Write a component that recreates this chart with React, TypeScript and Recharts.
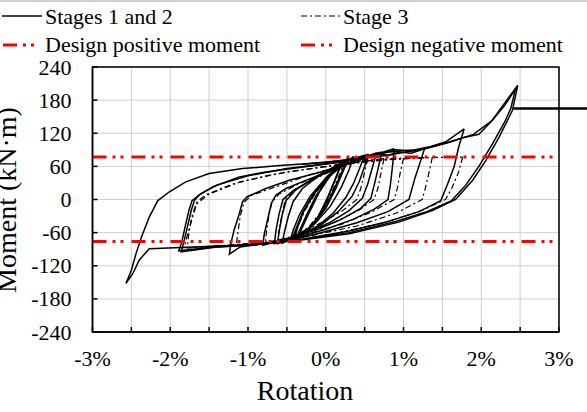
import React from "react";
import { LineChart, Line, XAxis, YAxis, CartesianGrid, ReferenceLine, ReferenceArea } from "recharts";

if (typeof document !== "undefined") document.body.style.margin = "0";

const FONT = "'Liberation Serif', 'Times New Roman', serif";

// rotation (%) , moment (kN·m)
const xTicks = [-3, -2.5, -2, -1.5, -1, -0.5, 0, 0.5, 1, 1.5, 2, 2.5, 3];
const yTicks = [-240, -180, -120, -60, 0, 60, 120, 180, 240];

const designPositive = 77;
const designNegative = -76;

// Stages 1 and 2 (solid)
const loopA = [[0.22,70],[0.14,42],[0.04,8],[-0.08,-28],[-0.2,-52],[-0.36,-68],[-0.3,-50],[-0.2,-20],[-0.08,14],[0.06,44],[0.22,70]];
const loopA2 = [[0.2,66],[0.12,36],[0.02,2],[-0.1,-32],[-0.24,-56],[-0.38,-70],[-0.33,-54],[-0.24,-26],[-0.12,8],[0.04,40],[0.2,66]];
const loopB = [[0.28,74],[0.2,48],[0.1,16],[-0.04,-22],[-0.2,-50],[-0.44,-73],[-0.38,-52],[-0.3,-24],[-0.16,10],[0.04,44],[0.28,74]];
const loopB2 = [[0.3,76],[0.22,50],[0.13,20],[0,-16],[-0.18,-48],[-0.46,-74],[-0.42,-56],[-0.34,-28],[-0.2,6],[0.02,42],[0.3,76]];
const loopB3 = [[0.36,78],[0.3,54],[0.2,22],[0.06,-12],[-0.14,-44],[-0.4,-70],[-0.36,-50],[-0.28,-20],[-0.14,12],[0.08,46],[0.36,78]];
const loopC = [[0.5,80],[0.44,58],[0.36,30],[0.26,4],[0.1,-24],[-0.1,-48],[-0.35,-66],[-0.56,-79],[-0.53,-58],[-0.48,-30],[-0.42,-4],[-0.3,20],[-0.08,44],[0.2,66],[0.5,80]];
const loopC2 = [[0.55,82],[0.5,60],[0.43,32],[0.34,6],[0.16,-22],[-0.06,-46],[-0.33,-66],[-0.62,-80],[-0.6,-58],[-0.56,-28],[-0.51,-2],[-0.38,18],[-0.12,42],[0.2,66],[0.55,82]];
const loopC3 = [[0.65,84],[0.6,58],[0.54,28],[0.47,2],[0.3,-20],[0.05,-42],[-0.3,-63],[-0.66,-80],[-0.64,-56],[-0.6,-26],[-0.55,0],[-0.42,16],[-0.15,38],[0.2,62],[0.65,84]];
const loopD = [[0.72,86],[0.68,60],[0.63,30],[0.58,2],[0.45,-16],[0.2,-36],[-0.1,-54],[-0.45,-70],[-0.81,-83],[-0.79,-62],[-0.75,-38],[-0.7,-7],[-0.64,8],[-0.51,20],[-0.25,35],[0.1,54],[0.4,72],[0.72,86]];
const loopE = [[0.88,92],[0.86,62],[0.83,25],[0.8,0],[0.62,-18],[0.35,-36],[0,-54],[-0.4,-70],[-0.8,-80],[-1.1,-86],[-1.24,-99],[-1.22,-80],[-1.18,-56],[-1.11,-25],[-1.07,-4],[-1.01,5],[-0.77,20],[-0.47,35],[0,52],[0.4,70],[0.69,84],[0.88,92]];
const loopF = [[1.27,92],[1.22,70],[1.15,40],[1.07,0],[0.8,-22],[0.4,-42],[0,-58],[-0.4,-72],[-0.9,-82],[-1.4,-86],[-1.86,-95],[-1.82,-74],[-1.78,-50],[-1.73,-20],[-1.69,-2],[-1.63,8],[-1.45,23],[-1.11,41],[-0.77,50],[-0.34,58],[0.2,68],[0.69,82],[0.9,90],[1.11,88],[1.27,92]];
const loopG = [[1.78,128],[1.71,95],[1.65,59],[1.57,29],[1.48,-2],[1.2,-22],[0.8,-40],[0.3,-57],[-0.3,-72],[-0.9,-82],[-1.5,-87],[-1.89,-93],[-1.85,-76],[-1.81,-50],[-1.76,-20],[-1.72,-2],[-1.6,11],[-1.4,26],[-1,43],[-0.5,56],[0.2,68],[0.7,84],[0.95,88],[1.15,90],[1.35,96],[1.54,104],[1.78,128]];
const loopH = [[2.47,207],[2.4,161],[2.23,113],[2.06,71],[1.89,35],[1.67,0],[1.37,-20],[0.94,-41],[0.3,-62],[-0.34,-74],[-1,-82],[-1.7,-86],[-2.27,-89],[-2.4,-110],[-2.48,-134],[-2.57,-152],[-2.5,-128],[-2.44,-98],[-2.37,-68],[-2.27,-32],[-2.16,-2],[-2.01,14],[-1.8,32],[-1.5,47],[-1.07,56],[-0.55,62],[0,67],[0.5,76],[0.65,84],[0.8,80],[0.95,86],[1.1,84],[1.27,92],[1.54,102],[1.76,112],[1.97,118],[2.14,143],[2.34,182],[2.47,207]];
const loopH2 = [[-0.3,64],[0.3,72],[0.8,80],[1.3,93],[1.6,104],[1.9,118],[2.14,143],[2.3,170],[2.44,200],[2.38,165],[2.3,140],[2.14,100],[1.97,60],[1.8,26],[1.62,-2],[1.3,-22],[0.9,-40],[0.3,-60],[-0.3,-72]];

// Stage 3 (dash-dot)
const stage3A = [[0.25,72],[0.18,46],[0.08,14],[-0.06,-22],[-0.22,-50],[-0.42,-70],[-0.36,-48],[-0.26,-18],[-0.12,14],[0.06,46],[0.25,72]];
const stage3B = [[0.54,74],[0.5,50],[0.45,20],[0.4,0],[0.2,-22],[-0.1,-45],[-0.4,-65],[-0.62,-78],[-0.6,-55],[-0.56,-25],[-0.52,0],[-0.4,18],[-0.1,40],[0.2,60],[0.54,74]];
const stage3C = [[0.75,74],[0.71,48],[0.67,20],[0.62,0],[0.42,-20],[0.1,-42],[-0.3,-62],[-0.78,-80],[-0.76,-56],[-0.73,-28],[-0.69,-4],[-0.6,10],[-0.35,28],[0,48],[0.35,66],[0.75,74]];
const stage3D = [[1,75],[0.96,50],[0.92,20],[0.88,0],[0.6,-22],[0.2,-45],[-0.3,-65],[-0.7,-76],[-1.15,-82],[-1.13,-60],[-1.1,-30],[-1.05,-5],[-0.95,8],[-0.6,25],[-0.2,45],[0.3,65],[0.6,72],[1,75]];
const stage3E = [[1.37,76],[1.33,50],[1.28,20],[1.24,0],[0.9,-25],[0.4,-48],[-0.2,-66],[-0.8,-78],[-1.4,-84],[-1.78,-88],[-1.76,-60],[-1.72,-30],[-1.66,-5],[-1.55,8],[-1.2,28],[-0.7,45],[-0.1,58],[0.5,70],[1,74],[1.37,76]];
const stage3F = [[1.76,77],[1.71,50],[1.62,20],[1.54,0],[1.2,-22],[0.7,-44],[0.1,-62],[-0.5,-76],[-1.2,-83],[-1.82,-87],[-1.78,-65],[-1.72,-35],[-1.66,-8],[-1.5,10],[-1.1,32],[-0.5,50],[0.2,63],[0.8,72],[1.3,76],[1.76,77]];

const solidLoops = [loopA, loopA2, loopB, loopB2, loopB3, loopC, loopC2, loopC3, loopD, loopE, loopF, loopG, loopH, loopH2];
const stage3Loops = [stage3A, stage3B, stage3C, stage3D, stage3E, stage3F];

const toPoints = (loop: number[][]) => loop.map(([r, m]) => ({ r, m }));

const RED_DASH = "14 6 3 5 3 8";
const STAGE3_DASH = "6 3 2 3";

function XTick(props: any) {
  const { x, y, payload } = props;
  const v = payload.value;
  if (!Number.isInteger(v)) return null;
  return (
    <text x={x} y={y + 15} textAnchor="middle" fontFamily={FONT} fontSize={22} fill="#000">{`${v}%`}</text>
  );
}

function YTick(props: any) {
  const { x, y, payload } = props;
  return (
    <text x={x} y={y + 7.5} textAnchor="end" fontFamily={FONT} fontSize={22} fill="#000">{payload.value}</text>
  );
}

function LegendOverlay() {
  const txt = { fontFamily: FONT, fontSize: 22, fill: "#000" };
  return (
    <svg width={587} height={60} style={{ position: "absolute", top: 0, left: 0, pointerEvents: "none" }}>
      <line x1={0} y1={1} x2={587} y2={1} stroke="#c0c0c0" strokeWidth={1.5} />
      <line x1={2} y1={16} x2={42} y2={16} stroke="#000" strokeWidth={1.5} />
      <text x={45} y={24} {...txt}>Stages 1 and 2</text>
      <line x1={301} y1={16} x2={340} y2={16} stroke="#000" strokeWidth={1.2} strokeDasharray={STAGE3_DASH} />
      <text x={343} y={24} {...txt}>Stage 3</text>
      <line x1={3} y1={45} x2={42} y2={45} stroke="#ff0000" strokeWidth={3} strokeDasharray={RED_DASH} />
      <text x={45} y={52} {...txt}>Design positive moment</text>
      <line x1={301} y1={45} x2={340} y2={45} stroke="#ff0000" strokeWidth={3} strokeDasharray={RED_DASH} />
      <text x={343} y={52} {...txt}>Design negative moment</text>
    </svg>
  );
}

export default function App() {
  return (
    <div style={{ position: "relative", width: 587, height: 412, background: "#fff", fontFamily: FONT }}>
      <LineChart width={587} height={412} margin={{ top: 67, right: 28, left: 0, bottom: 50 }}>
        <CartesianGrid stroke="#cfcfcf" strokeWidth={1} />
        <XAxis
          dataKey="r" type="number" domain={[-3, 3]} ticks={xTicks} interval={0} height={30}
          tick={<XTick />} tickSize={-5} tickMargin={24}
          axisLine={{ stroke: "#000", strokeWidth: 1.5 }} tickLine={{ stroke: "#000", strokeWidth: 1.5 }}
          label={() => (
            <text x={305} y={400} textAnchor="middle" fontSize={28} fontFamily={FONT} fill="#000">Rotation</text>
          )}
        />
        <YAxis
          type="number" domain={[-240, 240]} ticks={yTicks} interval={0} width={92.5}
          tick={<YTick />} tickSize={-5} tickMargin={26}
          axisLine={{ stroke: "#000", strokeWidth: 1.5 }} tickLine={{ stroke: "#000", strokeWidth: 1.5 }}
          label={() => (
            <text x={16} y={200} transform="rotate(-90 16 200)" textAnchor="middle" fontSize={28} fontFamily={FONT} fill="#000">
              Moment (kN·m)
            </text>
          )}
        />
        <ReferenceArea x1={-3} x2={3} y1={-240} y2={240} fill="none" stroke="#000" strokeWidth={1.5} />
        {stage3Loops.map((loop, i) => (
          <Line key={"d" + i} data={toPoints(loop)} dataKey="m" type="linear" stroke="#000" strokeWidth={1.2}
            strokeDasharray={STAGE3_DASH} dot={false} activeDot={false} isAnimationActive={false} />
        ))}
        {solidLoops.map((loop, i) => (
          <Line key={"s" + i} data={toPoints(loop)} dataKey="m" type="linear" stroke="#000" strokeWidth={1.5}
            dot={false} activeDot={false} isAnimationActive={false} />
        ))}
        <ReferenceLine y={designPositive} stroke="#ff0000" strokeWidth={3} strokeDasharray={RED_DASH} />
        <ReferenceLine y={designNegative} stroke="#ff0000" strokeWidth={3} strokeDasharray={RED_DASH} />
        <ReferenceLine segment={[{ x: 2.41, y: 165 }, { x: 3.45, y: 165 }]} ifOverflow="visible" stroke="#000" strokeWidth={2.5} />
      </LineChart>
      <LegendOverlay />
    </div>
  );
}
